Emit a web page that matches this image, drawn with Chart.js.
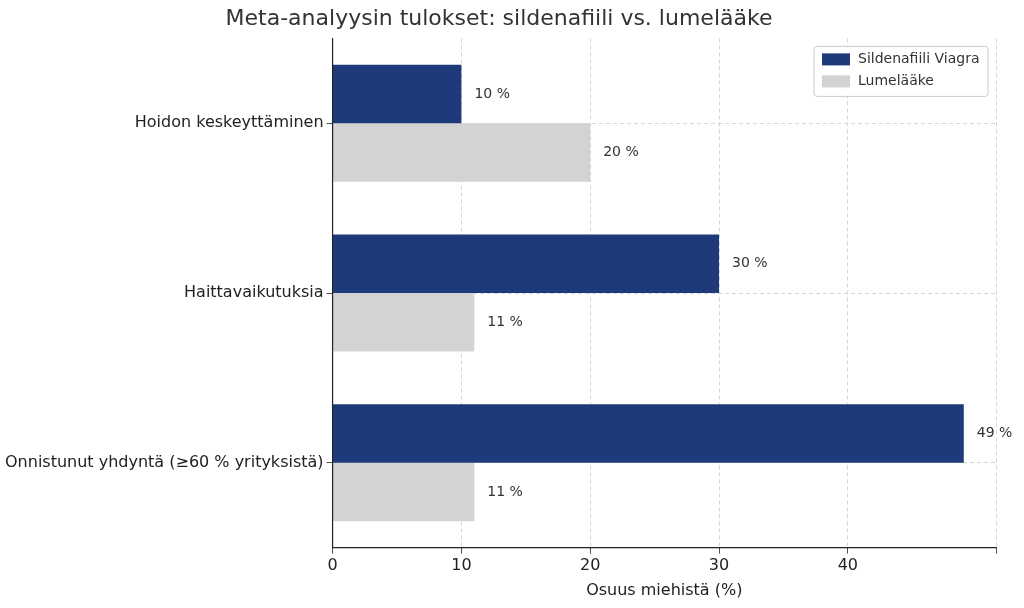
<!DOCTYPE html>
<html><head><meta charset="utf-8">
<script src="https://cdn.jsdelivr.net/npm/chart.js@4/dist/chart.umd.min.js"></script>
<style>html,body{margin:0;padding:0;background:#fff}#w{width:1024px;height:608px}</style>
</head><body><div id="w"><canvas id="c"></canvas></div>
<script>
const categories = ["Hoidon keskeyttäminen", "Haittavaikutuksia", "Onnistunut yhdyntä (≥60 % yrityksistä)"];
const sildenafil = [10, 30, 49];
const placebo = [20, 11, 11];
const seriesNames = ["Sildenafiili Viagra", "Lumelääke"];
const colors = ["#1f3a7a", "#d3d3d3"];
const F = "'DejaVu Sans', sans-serif";

const labelPlugin = {
  id: 'lbl',
  afterDatasetsDraw(chart) {
    const ctx = chart.ctx;
    ctx.save();
    ctx.font = "14px " + F; ctx.fillStyle = "#333"; ctx.textBaseline = "middle";
    chart.data.datasets.forEach((ds, i) => {
      chart.getDatasetMeta(i).data.forEach((b, j) => {
        ctx.fillText(ds.data[j] + " %", b.x + 13, b.y);
      });
    });
    // legend
    const a = chart.chartArea;
    const x0 = a.right - 182, y0 = a.top + 8, w = 174, h = 50;
    ctx.strokeStyle = "#ccc"; ctx.lineWidth = 1; ctx.fillStyle = "rgba(255,255,255,0.85)";
    ctx.beginPath(); ctx.roundRect(x0, y0, w, h, 3); ctx.fill(); ctx.stroke();
    ctx.font = "14px " + F; ctx.fillStyle = "#333";
    seriesNames.forEach((n, i) => {
      const yy = y0 + 13 + i * 22;
      ctx.fillStyle = colors[i]; ctx.fillRect(x0 + 8, yy - 6, 28, 12);
      ctx.fillStyle = "#333"; ctx.fillText(n, x0 + 44, yy);
    });
    ctx.restore();
  }
};

new Chart(document.getElementById('c'), {
  type: 'bar',
  data: {
    labels: categories,
    datasets: [
      { label: seriesNames[0], data: sildenafil, backgroundColor: colors[0] },
      { label: seriesNames[1], data: placebo, backgroundColor: colors[1] }
    ]
  },
  options: {
    indexAxis: 'y', responsive: true, maintainAspectRatio: false, animation: false,
    layout: { padding: { left: 2, right: 28, top: 0, bottom: 4 } },
    datasets: { bar: { categoryPercentage: 0.69, barPercentage: 1 } },
    plugins: {
      legend: { display: false }, tooltip: { enabled: false },
      title: { display: true, text: "Meta-analyysin tulokset: sildenafiili vs. lumelääke",
        font: { family: F, size: 22, weight: 'normal' }, color: "#333", padding: { top: 6, bottom: 6 } }
    },
    scales: {
      x: { min: 0, max: 51.5,
        ticks: { stepSize: 10, font: { family: F, size: 16 }, color: "#222",
          callback: v => v % 10 === 0 ? v : '' },
        grid: { color: "#ccc", lineWidth: 0.8, tickLength: 6, tickColor: "#222" },
        border: { color: "#222", dash: [4, 3], display: true },
        title: { display: true, text: "Osuus miehistä (%)", font: { family: F, size: 16 }, color: "#222", padding: { top: 2 } }
      },
      y: {
        ticks: { font: { family: F, size: 16 }, color: "#222" },
        grid: { offset: false, color: "#ccc", lineWidth: 0.8, tickLength: 6, tickColor: "#222" },
        border: { color: "#222", dash: [4, 3] }
      }
    }
  },
  plugins: [labelPlugin, {
    id: 'axes', afterDraw(chart) {
      const c = chart.ctx, a = chart.chartArea;
      c.save(); c.strokeStyle = "#222"; c.lineWidth = 1.2; c.beginPath();
      c.moveTo(a.left, a.top); c.lineTo(a.left, a.bottom); c.lineTo(a.right, a.bottom); c.stroke(); c.restore();
    }
  }]
});
</script></body></html>
